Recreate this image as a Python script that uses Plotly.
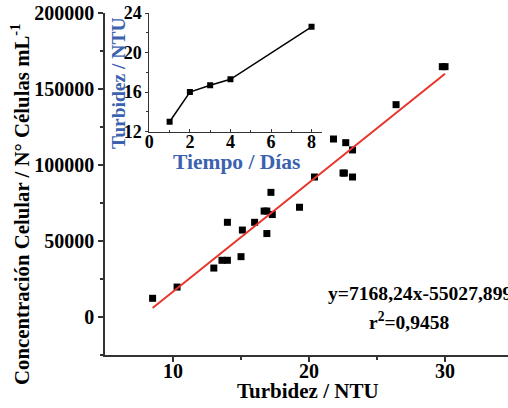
import plotly.graph_objects as go

# Main scatter: turbidity (NTU) vs cell concentration (cells/mL)
turbidez = [8.5, 10.3, 13.0, 13.6, 14.0, 14.0, 15.0, 15.1, 16.0, 16.7, 16.9, 16.9,
            17.2, 17.3, 19.3, 20.4, 21.8, 22.5, 22.6, 22.7, 23.2, 23.2, 26.4, 29.8, 30.0]
celulas = [12300, 19700, 32200, 37300, 37300, 62300, 39700, 57200, 62300, 69700, 69700, 54900,
           82000, 67400, 72200, 92100, 117100, 94700, 94700, 114700, 109900, 92100, 139700, 164700, 164700]

# Linear fit reported on the chart
pendiente = 7168.24
intercepto = -55027.899
fit_x = [min(turbidez), max(turbidez)]
fit_y = [pendiente * v + intercepto for v in fit_x]

# Inset: turbidity vs time
dias = [1, 2, 3, 4, 8]
turbidez_t = [13.0, 16.0, 16.7, 17.3, 22.6]

x_ticks = [10, 20, 30]
y_ticks = [0, 50000, 100000, 150000, 200000]
ix_ticks = [0, 2, 4, 6, 8]
iy_ticks = [12, 16, 20, 24]

FONT = "Liberation Serif"
BLUE = "#3a62ae"
AX = "#333333"

fig = go.Figure()
fig.add_trace(go.Scatter(x=turbidez, y=celulas, mode="markers",
                         marker=dict(symbol="square", size=7, color="black"),
                         xaxis="x", yaxis="y", showlegend=False))
fig.add_trace(go.Scatter(x=fit_x, y=fit_y, mode="lines",
                         line=dict(color="#e8352a", width=2),
                         xaxis="x", yaxis="y", showlegend=False))
fig.add_trace(go.Scatter(x=dias, y=turbidez_t, mode="lines+markers",
                         marker=dict(symbol="square", size=6, color="black"),
                         line=dict(color="black", width=1.5),
                         xaxis="x2", yaxis="y2", showlegend=False))

tickfont = dict(family=FONT, size=20, color="black", weight="bold")
itickfont = dict(family=FONT, size=18, color="black", weight="bold")
fig.update_layout(
    width=508, height=408,
    margin=dict(l=105, r=0, t=13, b=53),
    paper_bgcolor="white", plot_bgcolor="white",
    font=dict(family=FONT, color="black"),
    xaxis=dict(range=[5, 34.63], tickvals=x_ticks, ticks="outside", ticklen=5, tickwidth=1.5,
               tickcolor=AX, showline=True, linecolor=AX, linewidth=1.5, showgrid=False,
               zeroline=False, tickfont=tickfont, tickformat="d", ticklabelstandoff=-8,
               minor=dict(tickvals=[15, 25], ticks="outside", ticklen=3, tickcolor=AX)),
    yaxis=dict(range=[-25000, 200000], tickvals=y_ticks, ticks="outside", ticklen=5, tickwidth=1.5,
               tickcolor=AX, showline=True, linecolor=AX, linewidth=1.5, showgrid=False,
               zeroline=False, tickfont=tickfont, tickformat="d",
               minor=dict(tickvals=[-25000, 25000, 75000, 125000, 175000], ticks="outside",
                          ticklen=3, tickcolor=AX)),
    xaxis2=dict(domain=[0.11, 0.5377], anchor="y2", range=[0, 8.5], tickvals=ix_ticks,
                ticks="inside", ticklen=3, tickcolor=AX, showline=True, linecolor=AX, linewidth=1.2,
                showgrid=False, zeroline=False, tickfont=itickfont, tickformat="d",
                ticklabelstandoff=-6,
                minor=dict(tickvals=[1, 3, 5, 7], ticks="inside", ticklen=2, tickcolor=AX)),
    yaxis2=dict(domain=[0.653, 1.0], anchor="x2", range=[12, 24], tickvals=iy_ticks,
                ticks="outside", ticklen=3, tickcolor=AX, showline=True, linecolor=AX, linewidth=1.2,
                showgrid=False, zeroline=False, tickfont=itickfont, tickformat="d",
                minor=dict(tickvals=[14, 18, 22], ticks="outside", ticklen=2, tickcolor=AX)),
)

def ann(text, px, py, size, color="black", angle=0, xanchor="center"):
    return dict(text=text, x=(px - 105) / 403, y=(355 - py) / 342, xref="paper", yref="paper",
                xanchor=xanchor, yanchor="middle", textangle=angle, showarrow=False,
                font=dict(family=FONT, size=size, color=color))

annotations = [
    ann("<b>Concentración Celular / N° Células mL<sup>-1</sup></b>", 20, 205, 20.8, angle=-90),
    ann("<b>Turbidez / NTU</b>", 308, 391, 21),
    ann("<b>Turbidez / NTU</b>", 118, 84, 19.5, color=BLUE, angle=-90),
    ann("<b>Tiempo / Días</b>", 236, 162, 21.5, color=BLUE),
    ann("<b>y=7168,24x-55027,899</b>", 325.5, 293, 19.6, xanchor="left"),
    ann("<b>r<sup>2</sup>=0,9458</b>", 409, 321, 19.5),
]
fig.update_layout(annotations=annotations)

fig.write_html("out.html", post_script="document.body.style.margin='0';",
               config={"displayModeBar": False})
